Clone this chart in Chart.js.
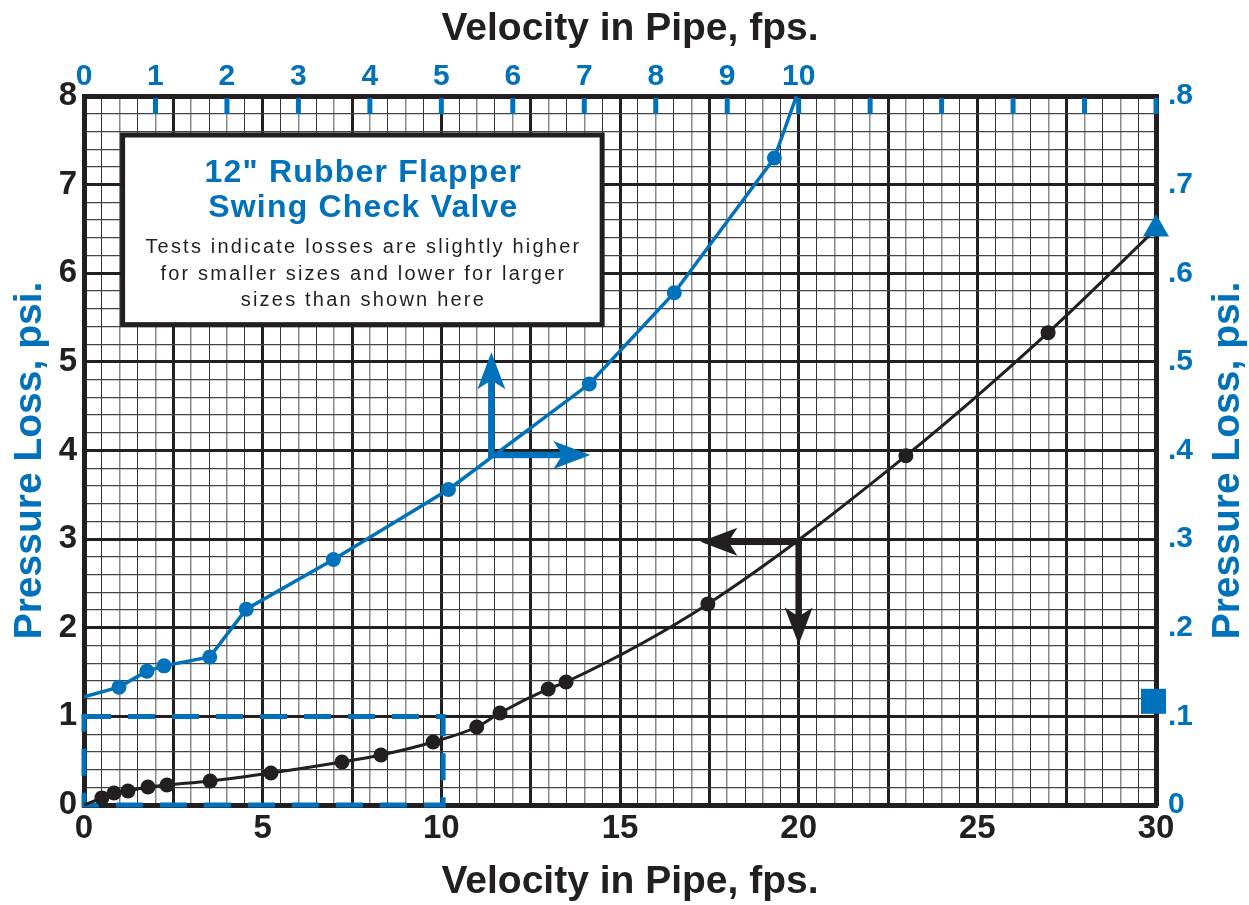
<!DOCTYPE html>
<html>
<head>
<meta charset="utf-8">
<script src="https://cdn.jsdelivr.net/npm/chart.js@4.4.0/dist/chart.umd.min.js"></script>
<style>
  html, body { margin: 0; padding: 0; background: #fff; }
  #wrap { width: 1249px; height: 905px; }
</style>
</head>
<body>
<div id="wrap"><canvas id="chart"></canvas></div>
<script>
const FONT = '"Liberation Sans", Arial, Helvetica, sans-serif';
const BLUE = '#0072bc';
const INK = '#231f20';

// black curve: bottom axis (fps) vs left axis (psi)
const blackVel = [0, 0.5, 0.84, 1.23, 1.79, 2.32, 3.53, 5.23, 7.22, 8.31, 9.77, 10.99, 11.64, 12.99, 13.49, 17.46, 23.0, 26.98, 30];
const blackPsi = [0, 0.08, 0.135, 0.158, 0.203, 0.226, 0.271, 0.361, 0.485, 0.564, 0.711, 0.88, 1.038, 1.309, 1.388, 2.269, 3.94, 5.33, 6.5];

// blue curve: top axis (fps) vs right axis (psi)
const blueVel = [0, 0.49, 0.88, 1.12, 1.76, 2.27, 3.49, 5.10, 7.07, 8.26, 9.66, 9.97];
const bluePsi = [0.122, 0.133, 0.151, 0.157, 0.167, 0.221, 0.277, 0.356, 0.475, 0.578, 0.730, 0.8];

// lone blue square on the right edge (bottom/left units)
const squareVel = [29.93];
const squarePsi = [1.17];

const rightTickLabels = ['0', '.1', '.2', '.3', '.4', '.5', '.6', '.7', '.8'];
const topTickMarks = [1, 2, 3, 4, 5, 6, 7, 8, 9, 10, 11, 12, 13, 14, 15];

const isInt = (v) => Math.abs(v - Math.round(v)) < 1e-6;

function arrow(ctx, x0, y0, x1, y1, color) {
  const ang = Math.atan2(y1 - y0, x1 - x0);
  const len = Math.hypot(x1 - x0, y1 - y0);
  ctx.save();
  ctx.translate(x0, y0);
  ctx.rotate(ang);
  ctx.fillStyle = color;
  ctx.fillRect(-3.25, -3.25, len - 24, 6.5);
  ctx.beginPath();
  ctx.moveTo(len, 0);
  ctx.lineTo(len - 37, -14);
  ctx.lineTo(len - 28, 0);
  ctx.lineTo(len - 37, 14);
  ctx.closePath();
  ctx.fill();
  ctx.restore();
}

const overlay = {
  id: 'overlay',
  beforeDatasetsDraw(chart) {
    const { ctx, scales: { x, y, x2 } } = chart;
    ctx.save();

    // blue tick marks inside the top edge
    ctx.strokeStyle = BLUE;
    ctx.lineWidth = 5;
    topTickMarks.forEach((v) => {
      const px = x2.getPixelForValue(v);
      ctx.beginPath();
      ctx.moveTo(px, y.top + 2);
      ctx.lineTo(px, y.top + 18);
      ctx.stroke();
    });

    // dashed blue region 0-10 fps / 0-1 psi
    ctx.setLineDash([27, 17]);
    ctx.lineWidth = 5;
    const rx0 = x.getPixelForValue(0), rx1 = x.getPixelForValue(10.05);
    const ry0 = y.getPixelForValue(1), ry1 = y.getPixelForValue(0);
    ctx.strokeRect(rx0, ry0, rx1 - rx0, ry1 - ry0);
    ctx.setLineDash([]);

    // text box
    const bx0 = x.getPixelForValue(1.08), bx1 = x.getPixelForValue(14.5);
    const by0 = y.getPixelForValue(7.56), by1 = y.getPixelForValue(5.42);
    ctx.fillStyle = '#fff';
    ctx.fillRect(bx0, by0, bx1 - bx0, by1 - by0);
    ctx.strokeStyle = INK;
    ctx.lineWidth = 5;
    ctx.strokeRect(bx0, by0, bx1 - bx0, by1 - by0);
    const cx = (bx0 + bx1) / 2;
    ctx.textAlign = 'center';
    ctx.textBaseline = 'alphabetic';
    ctx.fillStyle = BLUE;
    ctx.font = `bold 32px ${FONT}`;
    ctx.letterSpacing = '1.2px';
    ctx.fillText('12" Rubber Flapper', cx + 1, by0 + 47);
    ctx.fillText('Swing Check Valve', cx + 1, by0 + 82);
    ctx.fillStyle = INK;
    ctx.font = `20px ${FONT}`;
    ctx.letterSpacing = '2.2px';
    ctx.fillText('Tests indicate losses are slightly higher', cx + 1, by0 + 118);
    ctx.fillText('for smaller sizes and lower for larger', cx + 1, by0 + 145);
    ctx.fillText('sizes than shown here', cx + 1, by0 + 171);
    ctx.letterSpacing = '0px';

    // direction arrows
    const bcx = x.getPixelForValue(11.4), bcy = y.getPixelForValue(3.95);
    arrow(ctx, bcx, bcy, bcx, y.getPixelForValue(5.11), BLUE);
    arrow(ctx, bcx, bcy, x.getPixelForValue(14.17), bcy, BLUE);
    const kcx = x.getPixelForValue(20), kcy = y.getPixelForValue(2.97);
    arrow(ctx, kcx, kcy, x.getPixelForValue(17.25), kcy, INK);
    arrow(ctx, kcx, kcy, kcx, y.getPixelForValue(1.81), INK);

    ctx.restore();
  },
  afterDraw(chart) {
    const { ctx, chartArea } = chart;
    const title = 'Velocity in Pipe, fps.';
    const ytitle = 'Pressure Loss, psi.';
    const midY = (chartArea.top + chartArea.bottom) / 2 + 10;
    ctx.save();
    ctx.font = `bold 39px ${FONT}`;
    ctx.textAlign = 'center';
    ctx.textBaseline = 'alphabetic';
    ctx.fillStyle = INK;
    ctx.fillText(title, 630, 40);
    ctx.fillText(title, 630, 893);
    ctx.fillStyle = BLUE;
    [41, 1239].forEach((bx) => {
      ctx.save();
      ctx.translate(bx, midY);
      ctx.rotate(-Math.PI / 2);
      ctx.fillText(ytitle, 0, 0);
      ctx.restore();
    });
    ctx.restore();
  }
};

new Chart(document.getElementById('chart'), {
  type: 'line',
  data: {
    datasets: [
      {
        label: 'black',
        data: blackVel.map((v, i) => ({ x: v, y: blackPsi[i] })),
        xAxisID: 'x',
        yAxisID: 'y',
        borderColor: INK,
        borderWidth: 3,
        cubicInterpolationMode: 'monotone',
        clip: false,
        pointRadius: (c) => c.dataIndex === 0 ? 0 : (c.dataIndex === blackVel.length - 1 ? 15 : 7.5),
        pointStyle: (c) => c.dataIndex === blackVel.length - 1 ? 'triangle' : 'circle',
        pointBackgroundColor: (c) => c.dataIndex === blackVel.length - 1 ? BLUE : INK,
        pointBorderWidth: 0
      },
      {
        label: 'blue',
        data: blueVel.map((v, i) => ({ x: v, y: bluePsi[i] })),
        xAxisID: 'x2',
        yAxisID: 'y2',
        borderColor: BLUE,
        borderWidth: 3.5,
        tension: 0,
        pointRadius: (c) => (c.dataIndex === 0 || c.dataIndex === blueVel.length - 1) ? 0 : 7.5,
        pointBackgroundColor: BLUE,
        pointBorderWidth: 0
      },
      {
        label: 'square',
        data: squareVel.map((v, i) => ({ x: v, y: squarePsi[i] })),
        xAxisID: 'x',
        yAxisID: 'y',
        showLine: false,
        clip: false,
        pointStyle: 'rect',
        pointRadius: 17.7,
        pointBackgroundColor: BLUE,
        pointBorderWidth: 0
      }
    ]
  },
  options: {
    responsive: true,
    maintainAspectRatio: false,
    animation: false,
    events: [],
    layout: { padding: 0 },
    plugins: {
      legend: { display: false },
      tooltip: { enabled: false }
    },
    scales: {
      x: {
        type: 'linear',
        position: 'bottom',
        min: 0,
        max: 30,
        ticks: {
          stepSize: 0.5,
          autoSkip: false,
          maxRotation: 0,
          padding: 4,
          color: INK,
          font: { family: FONT, size: 33, weight: 'bold' },
          callback: (v) => (v % 5 === 0 ? v : '')
        },
        grid: {
          drawTicks: false,
          lineWidth: (c) => (c.tick.value % 2.5 === 0 ? 3 : (isInt(c.tick.value) ? 1.5 : 1)),
          color: (c) => (c.tick.value % 2.5 === 0 ? INK : (isInt(c.tick.value) ? '#8a8a8a' : '#333'))
        },
        border: { display: true, width: 5, color: INK },
        afterFit: (s) => { s.height = 100; }
      },
      y: {
        type: 'linear',
        position: 'left',
        min: 0,
        max: 8,
        ticks: {
          stepSize: 0.2,
          autoSkip: false,
          padding: 7,
          color: INK,
          font: { family: FONT, size: 33, weight: 'bold' },
          callback: (v) => (isInt(v) ? Math.round(v) : '')
        },
        grid: {
          drawTicks: false,
          lineWidth: (c) => (isInt(c.tick.value) ? 3 : 1.2),
          color: (c) => (isInt(c.tick.value) ? INK : '#444')
        },
        border: { display: true, width: 5, color: INK },
        afterFit: (s) => { s.width = 84; }
      },
      x2: {
        type: 'linear',
        position: 'top',
        min: 0,
        max: 15,
        ticks: {
          stepSize: 1,
          autoSkip: false,
          maxRotation: 0,
          padding: 1,
          color: BLUE,
          font: { family: FONT, size: 30, weight: 'bold' },
          callback: (v) => (v <= 10 ? v : '')
        },
        grid: { display: false, drawTicks: false },
        border: { display: true, width: 5, color: INK },
        afterFit: (s) => { s.height = 96; }
      },
      y2: {
        type: 'linear',
        position: 'right',
        min: 0,
        max: 0.8,
        ticks: {
          stepSize: 0.1,
          autoSkip: false,
          padding: 12,
          color: BLUE,
          font: { family: FONT, size: 30, weight: 'bold' },
          callback: (v) => rightTickLabels[Math.round(v * 10)]
        },
        grid: { display: false, drawTicks: false },
        border: { display: true, width: 5, color: INK },
        afterFit: (s) => { s.width = 93; }
      }
    }
  },
  plugins: [overlay]
});
</script>
</body>
</html>
